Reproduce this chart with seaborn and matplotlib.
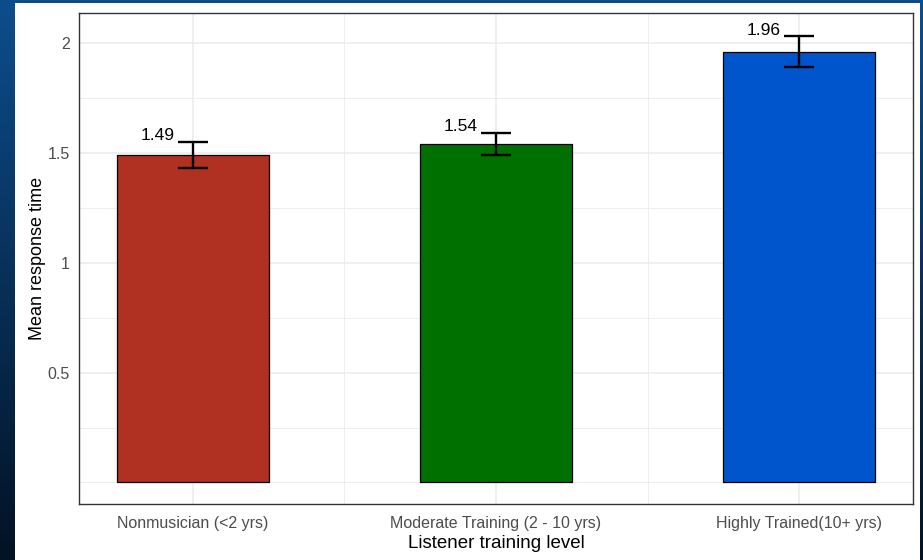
import numpy as np
import pandas as pd
import matplotlib
matplotlib.use("Agg")
import matplotlib.pyplot as plt
from matplotlib.patches import Rectangle
import seaborn as sns

# Listener groups and their mean response times (with standard errors)
levels = ["Nonmusician (<2 yrs)", "Moderate Training (2 - 10 yrs)", "Highly Trained(10+ yrs)"]
mean_rt = [1.49, 1.54, 1.96]
se_rt = [0.06, 0.05, 0.07]
bar_colors = ["#B03022", "#007000", "#0055CC"]
y_ticks = [0.5, 1.0, 1.5, 2.0]
y_tick_labels = ["0.5", "1", "1.5", "2"]

df = pd.DataFrame({"level": levels, "mean": mean_rt, "se": se_rt})

sns.set_style("white")
plt.rcParams["font.family"] = ["Liberation Sans", "DejaVu Sans"]

W, H = 923, 560
fig = plt.figure(figsize=(W / 100, H / 100), dpi=100)

# Slide-style dark blue gradient backdrop with a white card
bg = fig.add_axes([0, 0, 1, 1], zorder=-10)
grad = np.linspace(0, 1, 256)[:, None]
top = np.array([12, 78, 140]) / 255
bot = np.array([3, 18, 36]) / 255
img = top[None, None, :] * (1 - grad[..., None]) + bot[None, None, :] * grad[..., None]
img = np.repeat(img, 2, axis=1)
bg.imshow(img, aspect="auto", extent=[0, 1, 0, 1], origin="upper")
bg.add_patch(Rectangle((15 / W, 0), (920 - 15) / W, (H - 3) / H, facecolor="white",
                       edgecolor="none", transform=bg.transAxes))
bg.set_xlim(0, 1)
bg.set_ylim(0, 1)
bg.axis("off")

left, right, top_px, bottom_px = 79, 913, 13, 504
ax = fig.add_axes([left / W, 1 - bottom_px / H, (right - left) / W, (bottom_px - top_px) / H])
ax.set_facecolor("white")

sns.barplot(data=df, x="level", y="mean", hue="level", palette=bar_colors,
            saturation=1, width=0.5, edgecolor="black", linewidth=0.9,
            errorbar=None, legend=False, ax=ax, zorder=3)

xpos = np.arange(len(levels))
ax.errorbar(xpos, df["mean"], yerr=df["se"], fmt="none", ecolor="black",
            elinewidth=1.7, capsize=10.8, capthick=1.7, zorder=4)

for x, m, s in zip(xpos, df["mean"], df["se"]):
    ax.text(x - 0.06, m + s + 0.008, f"{m:.2f}", ha="right", va="baseline",
            fontsize=12.5, color="black", zorder=5)

ax.set_xlim(-0.375, 2.375)
ax.set_ylim(-0.098, 2.136)
ax.set_yticks(y_ticks)
ax.set_yticklabels(y_tick_labels)
ax.set_yticks([0, 0.25, 0.75, 1.25, 1.75], minor=True)
ax.set_xticks(xpos)
ax.set_xticklabels(levels)
ax.set_xticks([0.5, 1.5], minor=True)

ax.grid(True, which="major", color="#EBEBEB", linewidth=1.1, zorder=0)
ax.grid(True, which="minor", color="#EBEBEB", linewidth=0.6, zorder=0)
ax.set_axisbelow(True)

ax.tick_params(axis="both", which="major", length=3.5, width=0.8, color="#333333",
               labelcolor="#4D4D4D", labelsize=11.5, direction="out", pad=3)
ax.tick_params(axis="both", which="minor", length=0)
ax.tick_params(axis="x", pad=5)

for sp in ax.spines.values():
    sp.set_visible(True)
    sp.set_color("#333333")
    sp.set_linewidth(1.0)

ax.set_xlabel("Listener training level", fontsize=13.5, color="black", labelpad=3)
ax.set_ylabel("Mean response time", fontsize=13, color="black", labelpad=1)

fig.savefig("out.png", dpi=100)
